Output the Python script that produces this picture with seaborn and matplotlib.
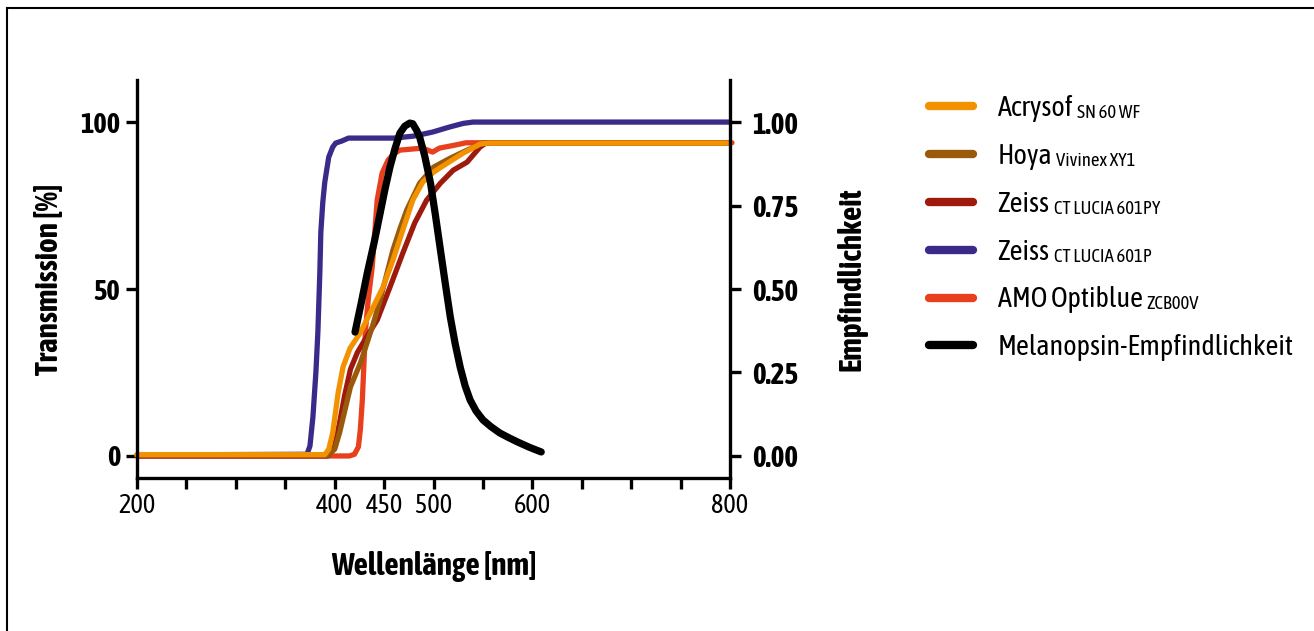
import matplotlib
matplotlib.use("Agg")
import matplotlib.pyplot as plt
import seaborn as sns
import pandas as pd
from matplotlib.patches import Rectangle
from matplotlib.lines import Line2D

# ---------------- data ----------------
acrysof_nm = [200, 390, 394, 398, 403.5, 408.5, 415.6, 425.7, 439, 449, 459, 469, 479, 489, 500, 514, 530, 547, 555, 800]
acrysof_t  = [0.4, 0.4, 2.0, 6.9, 18.9, 26.7, 32.3, 36.8, 44.6, 50.6, 58.7, 67.7, 76.6, 82.0, 85.0, 87.7, 90.7, 93.4, 93.7, 93.7]

hoya_nm = [200, 393, 400, 405, 409, 416, 426, 438, 446, 459, 466, 473, 486, 500, 517, 534, 550, 800]
hoya_t  = [0.2, 0.2, 2.0, 7.0, 12.0, 20.7, 27.8, 38.6, 46.7, 61.7, 68.0, 73.7, 81.7, 86.5, 89.2, 91.6, 93.7, 93.7]

zeiss_py_nm = [200, 393, 400, 405, 410, 416, 423, 433, 443, 456, 469, 481, 493, 507, 520, 534, 547, 553, 800]
zeiss_py_t  = [0.0, 0.0, 3.0, 10.0, 18.0, 26.0, 31.0, 36.0, 40.7, 50.6, 60.8, 69.8, 76.6, 81.7, 85.6, 88.0, 92.5, 93.7, 93.7]

zeiss_p_nm = [200, 372, 375, 378, 381, 383, 385, 386, 388, 390, 394, 398, 401, 407, 414, 460, 480, 499, 516, 530, 540, 800]
zeiss_p_t  = [0.3, 0.5, 3.0, 11.7, 25.0, 37.0, 55.0, 67.0, 76.0, 82.0, 89.5, 92.5, 93.7, 94.3, 95.2, 95.2, 95.8, 97.0, 98.5, 99.6, 100.0, 100.0]

amo_nm = [200, 415, 420, 424, 426, 428, 431, 434, 438, 443, 448, 454, 460, 466, 489, 495, 499, 506, 520, 533, 547, 802]
amo_t  = [0.0, 0.0, 0.5, 2.7, 8.0, 16.8, 37.0, 47.0, 56.6, 76.6, 84.7, 88.6, 90.5, 91.6, 92.2, 91.5, 91.0, 92.2, 93.0, 93.8, 93.8, 93.8]

melan_nm = [420.6, 427, 433, 440, 446, 451, 456, 461, 466, 471, 476, 479, 483, 486, 491, 497, 502, 507, 512,
            517, 522, 527, 532, 537, 543, 550, 558, 567, 576, 585, 597, 609]
melan_s  = [0.371, 0.46, 0.548, 0.64, 0.727, 0.80, 0.866, 0.92, 0.967, 0.988, 0.997, 0.995, 0.975, 0.955, 0.90,
            0.817, 0.72, 0.617, 0.515, 0.416, 0.335, 0.266, 0.21, 0.168, 0.135, 0.108, 0.088, 0.069, 0.055,
            0.042, 0.026, 0.012]

legend_main  = ["Acrysof", "Hoya", "Zeiss", "Zeiss", "AMO Optiblue", "Melanopsin-Empfindlichkeit"]
legend_small = ["SN 60 WF", "Vivinex XY1", "CT LUCIA 601PY", "CT LUCIA 601P", "ZCB00V", ""]

x_ticks = [200, 250, 300, 350, 400, 450, 500, 550, 600, 650, 700, 750, 800]
x_ticklabels = ["200", "", "", "", "400", "450", "500", "", "600", "", "", "", "800"]
y_ticks = [0, 50, 100]
y2_ticks = [0.00, 0.25, 0.50, 0.75, 1.00]

# ---------------- style ----------------
sns.set_style("ticks")
FAM = ["Asap Condensed", "DejaVu Sans"]
plt.rcParams["font.family"] = FAM
plt.rcParams["text.color"] = "black"
plt.rcParams["axes.labelcolor"] = "black"
plt.rcParams["xtick.color"] = "black"
plt.rcParams["ytick.color"] = "black"
plt.rcParams["axes.edgecolor"] = "black"

c_orange = "#F39200"
c_brown = "#9A5A0C"
c_darkred = "#9E1A0C"
c_purple = "#3B2A8A"
c_red = "#E8401C"
c_black = "#000000"

fig = plt.figure(figsize=(13.14, 6.31), dpi=100)
fig.patches.append(Rectangle((7/1314, -0.01), 1.2, 1 - 8/631 + 0.01, transform=fig.transFigure,
                             fill=False, edgecolor="black", linewidth=1.5, zorder=0))
ax = fig.add_axes([137/1314, 1-478/631, (730-137)/1314, (478-80)/631])

lw = 3.8
series = [
    (zeiss_p_nm, zeiss_p_t, c_purple),
    (amo_nm, amo_t, c_red),
    (zeiss_py_nm, zeiss_py_t, c_darkred),
    (hoya_nm, hoya_t, c_brown),
    (acrysof_nm, acrysof_t, c_orange),
]
for xs, ys, col in series:
    df = pd.DataFrame({"nm": xs, "t": ys})
    sns.lineplot(data=df, x="nm", y="t", ax=ax, color=col, linewidth=lw,
                 estimator=None, sort=False, solid_capstyle="round", solid_joinstyle="round", clip_on=False)

ax.set_xlim(200, 800)
ax.set_ylim(-6.6, 112.6)
ax.set_xticks(x_ticks)
ax.set_xticklabels(x_ticklabels)
ax.set_yticks(y_ticks)
ax.set_yticklabels([str(v) for v in y_ticks])
for sp in ["top", "right"]:
    ax.spines[sp].set_visible(False)
for sp in ["left", "bottom"]:
    ax.spines[sp].set_linewidth(2.4)
ax.tick_params(axis="both", width=2.4, length=8)
ax.tick_params(axis="x", labelsize=19, pad=3)
ax.tick_params(axis="y", labelsize=20.5, pad=4)
for t in ax.get_yticklabels():
    t.set_fontweight("bold")
ax.set_xlabel("Wellenlänge [nm]", fontsize=22.5, fontweight="bold")
ax.set_ylabel("Transmission [%]", fontsize=22.5, fontweight="bold")
ax.xaxis.set_label_coords(0.5, (478 - 566) / 398)
ax.xaxis.label.set_va("center")
ax.yaxis.set_label_coords((50 - 137) / 593, 0.5)
ax.yaxis.label.set_va("center")

ax2 = ax.twinx()
dfm = pd.DataFrame({"nm": melan_nm, "s": melan_s})
sns.lineplot(data=dfm, x="nm", y="s", ax=ax2, color=c_black, linewidth=5.2,
             estimator=None, sort=False, solid_capstyle="round", solid_joinstyle="round")
ax2.set_ylim(-0.066, 1.126)
ax2.set_yticks(y2_ticks)
ax2.set_yticklabels([f"{v:.2f}" for v in y2_ticks])
for sp in ["top", "left", "bottom"]:
    ax2.spines[sp].set_visible(False)
ax2.spines["right"].set_linewidth(2.4)
ax2.tick_params(axis="y", width=2.4, length=8, labelsize=21, pad=8)
for t in ax2.get_yticklabels():
    t.set_fontweight("bold")
ax2.set_ylabel("Empfindlichkeit", fontsize=22.5, fontweight="bold")
ax2.yaxis.set_label_coords((852 - 137) / 593, 0.5)
ax2.yaxis.label.set_va("center")
ax2.set_xlim(200, 800)

# ---------------- legend ----------------
handles = [Line2D([0], [0], color=c, linewidth=6, solid_capstyle="round")
           for c in [c_orange, c_brown, c_darkred, c_purple, c_red, c_black]]
leg = fig.legend(handles, legend_main, loc="upper left", bbox_to_anchor=(929/1314, 1-95/631),
                 frameon=False, fontsize=20.3, handlelength=1.55, handletextpad=0.88,
                 labelspacing=0.74, borderaxespad=0, borderpad=0)

fig.canvas.draw()
inv = fig.transFigure.inverted()
for txt, small in zip(leg.get_texts(), legend_small):
    if small:
        bb = txt.get_window_extent()
        x0, y0 = inv.transform((bb.x1 + 4, bb.y0))
        fig.text(x0, y0, small, fontsize=13.5, ha="left", va="bottom")

fig.savefig("out.png", dpi=100)
